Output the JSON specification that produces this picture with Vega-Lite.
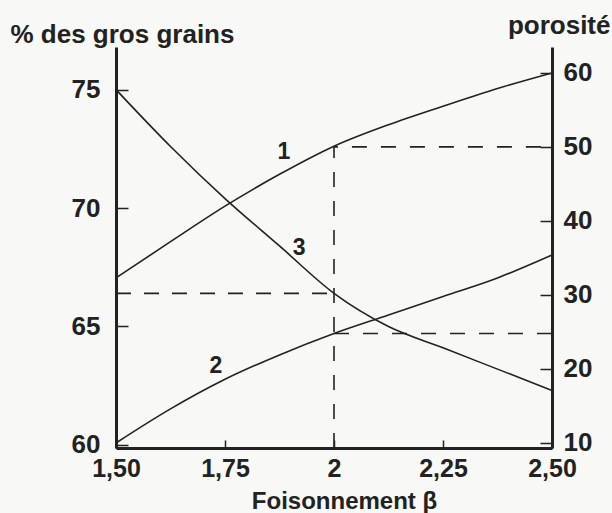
{
  "$schema": "https://vega.github.io/schema/vega-lite/v6.json",
  "width": 436,
  "height": 401,
  "autosize": {"type": "none"},
  "padding": {"left": 116, "top": 47, "right": 60, "bottom": 65},
  "background": "#f8f8f6",
  "config": {
    "font": "Liberation Sans",
    "view": {"stroke": null},
    "axis": {
      "grid": false,
      "domainColor": "#222222",
      "domainWidth": 3,
      "tickColor": "#222222",
      "tickWidth": 1.5,
      "labelColor": "#222222",
      "labelFont": "Liberation Sans",
      "labelFontSize": 26,
      "labelFontWeight": "bold",
      "titleColor": "#222222",
      "titleFont": "Liberation Sans",
      "titleFontSize": 26,
      "titleFontWeight": "bold"
    }
  },
  "datasets": {
    "grains": [
      {"beta": 1.5, "gg": 75.0},
      {"beta": 1.625, "gg": 72.6},
      {"beta": 1.75, "gg": 70.4},
      {"beta": 1.875, "gg": 68.4},
      {"beta": 2.0, "gg": 66.4},
      {"beta": 2.125, "gg": 65.0},
      {"beta": 2.25, "gg": 64.1},
      {"beta": 2.375, "gg": 63.2},
      {"beta": 2.5, "gg": 62.3}
    ],
    "porosite": [
      {"courbe": "1", "beta": 1.5, "por": 32.3},
      {"courbe": "1", "beta": 1.625, "por": 37.2},
      {"courbe": "1", "beta": 1.75, "por": 42.0},
      {"courbe": "1", "beta": 1.875, "por": 46.3},
      {"courbe": "1", "beta": 2.0, "por": 50.1},
      {"courbe": "1", "beta": 2.125, "por": 53.0},
      {"courbe": "1", "beta": 2.25, "por": 55.5},
      {"courbe": "1", "beta": 2.375, "por": 57.9},
      {"courbe": "1", "beta": 2.5, "por": 60.0},
      {"courbe": "2", "beta": 1.5, "por": 10.0},
      {"courbe": "2", "beta": 1.625, "por": 14.6},
      {"courbe": "2", "beta": 1.75, "por": 18.6},
      {"courbe": "2", "beta": 1.875, "por": 21.9},
      {"courbe": "2", "beta": 2.0, "por": 24.8},
      {"courbe": "2", "beta": 2.125, "por": 27.3},
      {"courbe": "2", "beta": 2.25, "por": 29.8},
      {"courbe": "2", "beta": 2.375, "por": 32.3},
      {"courbe": "2", "beta": 2.5, "por": 35.4}
    ],
    "lectureGrains": [
      {"beta": 1.5, "gg": 66.4},
      {"beta": 2.0, "gg": 66.4}
    ],
    "lecturePorosite": [
      {"trait": "a", "k": 1, "beta": 2.0, "por": 9.32},
      {"trait": "a", "k": 2, "beta": 2.0, "por": 50.0},
      {"trait": "a", "k": 3, "beta": 2.5, "por": 50.0},
      {"trait": "b", "k": 1, "beta": 2.0, "por": 24.8},
      {"trait": "b", "k": 2, "beta": 2.5, "por": 24.8}
    ],
    "etiquettesGrains": [
      {"beta": 1.92, "gg": 68.3, "nom": "3"}
    ],
    "etiquettesPorosite": [
      {"beta": 1.885, "por": 49.3, "nom": "1"},
      {"beta": 1.729, "por": 20.4, "nom": "2"}
    ]
  },
  "layer": [
    {
      "layer": [
        {
          "data": {"name": "grains"},
          "mark": {"type": "line", "color": "#222222", "strokeWidth": 1.6, "interpolate": "monotone"},
          "encoding": {
            "x": {
              "field": "beta", "type": "quantitative",
              "scale": {"domain": [1.5, 2.5], "nice": false, "zero": false},
              "axis": {
                "orient": "bottom",
                "values": [1.5, 1.75, 2, 2.25, 2.5],
                "labelExpr": "datum.value == 2 ? '2' : replace(format(datum.value, '.2f'), '.', ',')",
                "labelFlush": false,
                "labelOverlap": false,
                "labelFontSize": 25,
                "tickSize": -8,
                "labelPadding": 16,
                "title": "Foisonnement β",
                "titleFontSize": 24,
                "titleX": 228,
                "titleY": 60,
                "titleAlign": "center",
                "titleBaseline": "alphabetic"
              }
            },
            "y": {
              "field": "gg", "type": "quantitative",
              "scale": {"domain": [59.87, 76.8], "nice": false, "zero": false},
              "axis": {
                "orient": "left",
                "values": [60, 65, 70, 75],
                "tickSize": -12,
                "labelPadding": 28,
                "title": "% des gros grains",
                "titleAngle": 0,
                "titleX": -106,
                "titleY": -5,
                "titleAlign": "left",
                "titleBaseline": "alphabetic"
              }
            }
          }
        },
        {
          "data": {"name": "lectureGrains"},
          "mark": {"type": "line", "color": "#222222", "strokeWidth": 1.6, "strokeDash": [15, 13]},
          "encoding": {
            "x": {"field": "beta", "type": "quantitative"},
            "y": {"field": "gg", "type": "quantitative"}
          }
        },
        {
          "data": {"name": "etiquettesGrains"},
          "mark": {"type": "text", "color": "#222222", "font": "Liberation Sans", "fontSize": 23, "fontWeight": "bold", "baseline": "middle", "align": "center"},
          "encoding": {
            "x": {"field": "beta", "type": "quantitative"},
            "y": {"field": "gg", "type": "quantitative"},
            "text": {"field": "nom"}
          }
        }
      ]
    },
    {
      "layer": [
        {
          "data": {"name": "porosite"},
          "mark": {"type": "line", "color": "#222222", "strokeWidth": 1.6, "interpolate": "monotone"},
          "encoding": {
            "x": {"field": "beta", "type": "quantitative"},
            "y": {
              "field": "por", "type": "quantitative",
              "scale": {"domain": [9.32, 63.5], "nice": false, "zero": false},
              "axis": {
                "orient": "right",
                "values": [10, 20, 30, 40, 50, 60],
                "tickSize": -12,
                "labelPadding": 23,
                "title": "porosité",
                "titleAngle": 0,
                "titleX": 58,
                "titleY": -14,
                "titleAlign": "right",
                "titleBaseline": "alphabetic"
              }
            },
            "detail": {"field": "courbe"}
          }
        },
        {
          "data": {"name": "lecturePorosite"},
          "mark": {"type": "line", "color": "#222222", "strokeWidth": 1.6, "strokeDash": [15, 14]},
          "encoding": {
            "x": {"field": "beta", "type": "quantitative"},
            "y": {"field": "por", "type": "quantitative"},
            "detail": {"field": "trait"},
            "order": {"field": "k"}
          }
        },
        {
          "data": {"name": "etiquettesPorosite"},
          "mark": {"type": "text", "color": "#222222", "font": "Liberation Sans", "fontSize": 23, "fontWeight": "bold", "baseline": "middle", "align": "center"},
          "encoding": {
            "x": {"field": "beta", "type": "quantitative"},
            "y": {"field": "por", "type": "quantitative"},
            "text": {"field": "nom"}
          }
        }
      ]
    }
  ],
  "resolve": {"scale": {"y": "independent"}}
}
